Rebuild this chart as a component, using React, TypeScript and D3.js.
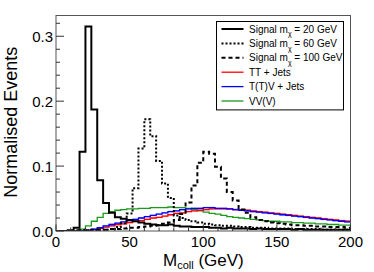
import React from "react";
import * as d3 from "d3";

// 4 GeV bins from 0 to 200
const binLow = d3.range(0, 200, 4);

const sig20 = [
  0, 0, 0.001, 0.005, 0.122, 0.315, 0.187, 0.078, 0.043, 0.028,
  0.021, 0.019, 0.017, 0.015, 0.013, 0.011, 0.01, 0.009, 0.009, 0.01,
  0.008, 0.007, 0.007, 0.006, 0.006, 0.006, 0.005, 0.005, 0.004, 0.005,
  0.004, 0.004, 0.004, 0.003, 0.004, 0.003, 0.003, 0.003, 0.003, 0.003,
  0.002, 0.003, 0.002, 0.002, 0.002, 0.002, 0.002, 0.002, 0.002, 0.002,
];
const sig60 = [
  0, 0, 0, 0, 0.001, 0.001, 0.001, 0.002, 0.002, 0.003,
  0.006, 0.012, 0.027, 0.066, 0.127, 0.172, 0.146, 0.108, 0.073, 0.051,
  0.024, 0.02, 0.017, 0.015, 0.013, 0.011, 0.01, 0.009, 0.008, 0.008,
  0.007, 0.006, 0.006, 0.005, 0.005, 0.005, 0.004, 0.004, 0.004, 0.004,
  0.003, 0.003, 0.003, 0.003, 0.003, 0.002, 0.002, 0.002, 0.002, 0.002,
];
const sig100 = [
  0, 0, 0, 0.001, 0.001, 0.001, 0.002, 0.002, 0.002, 0.003,
  0.003, 0.004, 0.005, 0.005, 0.006, 0.007, 0.008, 0.009, 0.011, 0.013,
  0.017, 0.026, 0.044, 0.07, 0.105, 0.122, 0.119, 0.099, 0.081, 0.06,
  0.047, 0.033, 0.028, 0.021, 0.017, 0.015, 0.013, 0.012, 0.011, 0.01,
  0.009, 0.009, 0.008, 0.008, 0.007, 0.007, 0.006, 0.006, 0.006, 0.005,
];
const ttJets = [
  0, 0, 0, 0, 0, 0.001, 0.002, 0.004, 0.006, 0.008,
  0.01, 0.011, 0.013, 0.015, 0.016, 0.018, 0.02, 0.021, 0.023, 0.025,
  0.027, 0.028, 0.03, 0.031, 0.032, 0.033, 0.034, 0.034, 0.034, 0.034,
  0.033, 0.033, 0.032, 0.031, 0.03, 0.029, 0.028, 0.027, 0.026, 0.025,
  0.024, 0.023, 0.022, 0.021, 0.02, 0.019, 0.018, 0.017, 0.016, 0.015,
];
const ttvJets = [
  0, 0, 0, 0, 0, 0.001, 0.003, 0.005, 0.008, 0.01,
  0.012, 0.014, 0.016, 0.018, 0.02, 0.022, 0.024, 0.026, 0.028, 0.03,
  0.031, 0.033, 0.034, 0.035, 0.035, 0.036, 0.036, 0.035, 0.035, 0.034,
  0.033, 0.032, 0.031, 0.03, 0.029, 0.028, 0.027, 0.026, 0.025, 0.024,
  0.023, 0.022, 0.021, 0.02, 0.019, 0.018, 0.017, 0.016, 0.015, 0.014,
];
const vvv = [
  0, 0, 0, 0, 0.003, 0.008, 0.015, 0.021, 0.027, 0.03,
  0.032, 0.033, 0.034, 0.034, 0.035, 0.035, 0.036, 0.036, 0.036, 0.037,
  0.036, 0.036, 0.035, 0.033, 0.031, 0.029, 0.027, 0.026, 0.024, 0.022,
  0.021, 0.02, 0.019, 0.018, 0.017, 0.016, 0.015, 0.015, 0.014, 0.014,
  0.013, 0.013, 0.012, 0.012, 0.011, 0.011, 0.01, 0.01, 0.009, 0.009,
];

const xTicks = [0, 50, 100, 150, 200];
const yTicks = [0, 0.1, 0.2, 0.3];

const W = 374;
const H = 272;
const margin = { top: 15.5, right: 23.5, bottom: 41, left: 56 };

const font = "'Liberation Sans', Arial, Helvetica, sans-serif";

const App: React.FC = () => {
  const x = d3.scaleLinear().domain([0, 200]).range([margin.left, W - margin.right]);
  const y = d3.scaleLinear().domain([0, 0.332]).range([H - margin.bottom, margin.top]);

  const step = (vals: number[]) => {
    const pts: [number, number][] = binLow.map((b, i) => [b, vals[i]]);
    pts.push([200, vals[vals.length - 1]]);
    return d3
      .line<[number, number]>()
      .x((d) => x(d[0]))
      .y((d) => y(d[1]))
      .curve(d3.curveStepAfter)(pts) || "";
  };

  const series = [
    { name: "vvv", vals: vvv, color: "#1a9a1a", width: 1.3, dash: "" },
    { name: "tt", vals: ttJets, color: "#ff0000", width: 1.3, dash: "" },
    { name: "ttv", vals: ttvJets, color: "#0000ff", width: 1.3, dash: "" },
    { name: "s100", vals: sig100, color: "#000", width: 2, dash: "4,3" },
    { name: "s60", vals: sig60, color: "#000", width: 2, dash: "2,2" },
    { name: "s20", vals: sig20, color: "#000", width: 2, dash: "" },
  ];

  const bands = [
    { vals: ttJets, color: "#ff8080" },
    { vals: ttvJets, color: "#8080ff" },
  ];

  const xMinor = d3.range(0, 201, 10);
  const yMinor = d3.range(0, 0.331, 0.02);
  const y0 = y(0);
  const x0 = x(0);

  const legend = [
    { label: "Signal m", sub: "χ", rest: " = 20 GeV", color: "#000", width: 2, dash: "" },
    { label: "Signal m", sub: "χ", rest: " = 60 GeV", color: "#000", width: 2, dash: "2,2" },
    { label: "Signal m", sub: "χ", rest: " = 100 GeV", color: "#000", width: 2, dash: "4,3" },
    { label: "TT + Jets", sub: "", rest: "", color: "#ff0000", width: 1.3, dash: "" },
    { label: "T(T)V + Jets", sub: "", rest: "", color: "#0000ff", width: 1.3, dash: "" },
    { label: "VV(V)", sub: "", rest: "", color: "#1a9a1a", width: 1.3, dash: "" },
  ];
  const legX = 216.5;
  const legY = 21.5;
  const rowH = 14.4;

  return (
    <svg
      width={W}
      height={H}
      style={{ position: "absolute", left: 0, top: 0, background: "#fff" }}
      fontFamily={font}
    >
      <defs>
        <clipPath id="plot">
          <rect x={x(0)} y={margin.top} width={x(200) - x(0)} height={y0 - margin.top} />
        </clipPath>
      </defs>

      <g clipPath="url(#plot)">
        {bands.map((b, bi) =>
          binLow.map((lo, i) =>
            b.vals[i] > 0 ? (
              <rect
                key={`b${bi}-${i}`}
                x={x(lo)}
                width={x(lo + 4) - x(lo)}
                y={y(b.vals[i] + 0.0015)}
                height={y(b.vals[i] - 0.0015) - y(b.vals[i] + 0.0015)}
                fill={b.color}
                opacity={0.45}
              />
            ) : null
          )
        )}
        {series.map((s) => (
          <path
            key={s.name}
            d={step(s.vals)}
            fill="none"
            stroke={s.color}
            strokeWidth={s.width}
            strokeDasharray={s.dash || undefined}
          />
        ))}
      </g>

      {/* frame */}
      <rect
        x={x(0)}
        y={margin.top}
        width={x(200) - x(0)}
        height={y0 - margin.top}
        fill="none"
        stroke="#555"
        strokeWidth={1}
      />

      {/* x ticks */}
      {xMinor.map((t) => (
        <line key={`xm${t}`} x1={x(t)} x2={x(t)} y1={y0} y2={y0 - (t % 50 === 0 ? 6.5 : 3.5)} stroke="#333" />
      ))}
      {xTicks.map((t) => (
        <text key={`xl${t}`} x={x(t)} y={247} textAnchor="middle" fontSize={15}>
          {t}
        </text>
      ))}

      {/* y ticks */}
      {yMinor.map((t, i) => (
        <line key={`ym${i}`} x1={x0} x2={x0 + (i % 5 === 0 ? 8 : 4)} y1={y(t)} y2={y(t)} stroke="#333" />
      ))}
      {yTicks.map((t) => (
        <text key={`yl${t}`} x={53} y={y(t) + 5.5} textAnchor="end" fontSize={15}>
          {d3.format(".1f")(t)}
        </text>
      ))}

      {/* axis titles */}
      <text x={163} y={266} fontSize={17}>
        M
        <tspan fontSize={11} dy={3}>coll</tspan>
        <tspan dy={-3}> (GeV)</tspan>
      </text>
      <text
        transform={`translate(17, ${(margin.top + y0) / 2 - 1}) rotate(-90)`}
        textAnchor="middle"
        fontSize={18}
      >
        Normalised Events
      </text>

      {/* legend */}
      <rect x={legX} y={legY} width={343.5 - legX} height={rowH * 6 + 2} fill="#fff" stroke="#000" strokeWidth={1} />
      {legend.map((l, i) => {
        const cy = legY + 7.5 + i * rowH;
        return (
          <g key={`lg${i}`}>
            <line
              x1={221.5}
              x2={243.5}
              y1={cy}
              y2={cy}
              stroke={l.color}
              strokeWidth={l.width}
              strokeDasharray={l.dash || undefined}
            />
            <text x={249} y={cy + 3.6} fontSize={10}>
              {l.label}
              {l.sub && (
                <tspan fontSize={7} dy={3.5}>
                  {l.sub}
                </tspan>
              )}
              {l.rest && <tspan dy={l.sub ? -3.5 : 0}>{l.rest}</tspan>}
            </text>
          </g>
        );
      })}
    </svg>
  );
};

export default App;
